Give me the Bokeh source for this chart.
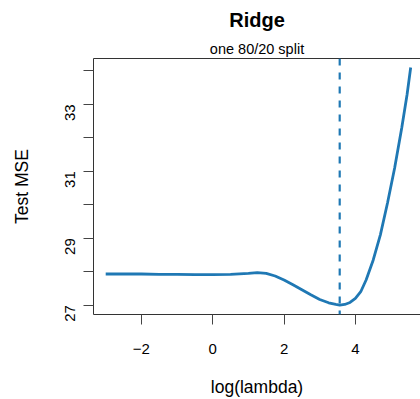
from bokeh.plotting import figure
from bokeh.models import (Range1d, FixedTicker, LinearAxis, Span, Title)
from bokeh.embed import file_html
from bokeh.resources import INLINE

# ---- data ----
log_lambda = [-3.0, -2.5, -2.0, -1.5, -1.0, -0.5, 0.0, 0.5, 1.0, 1.25, 1.5, 1.75,
              2.0, 2.25, 2.5, 2.75, 3.0, 3.25, 3.45, 3.56, 3.7, 3.85, 4.0, 4.15,
              4.3, 4.5, 4.7, 4.9, 5.1, 5.3, 5.45, 5.55]
test_mse = [27.93, 27.93, 27.93, 27.92, 27.92, 27.91, 27.91, 27.92, 27.95, 27.97,
            27.95, 27.87, 27.75, 27.61, 27.46, 27.31, 27.17, 27.07, 27.02, 27.00,
            27.02, 27.08, 27.20, 27.40, 27.75, 28.35, 29.10, 30.05, 31.10, 32.30,
            33.30, 34.10]
best_log_lambda = 3.56

x_ticks = [-2, 0, 2, 4]
x_tick_labels = ["\u22122", "0", "2", "4"]
y_ticks = [27, 28, 29, 30, 31, 32, 33, 34]
y_tick_labels = ["27", "", "29", "", "31", "", "33", ""]

title_text = "Ridge"
subtitle_text = "one 80/20 split"
x_label = "log(lambda)"
y_label = "Test MSE"

BLUE = "#1f78b4"
FONT = "Liberation Sans"

p = figure(width=420, height=399, output_backend="svg", toolbar_location=None,
           x_range=Range1d(-3.342, 5.825), y_range=Range1d(26.72, 34.37),
           min_border_left=93, min_border_right=0, min_border_top=0,
           min_border_bottom=0, x_axis_location=None, y_axis_location=None)
p.title = None
p.outline_line_color = None
p.background_fill_color = "white"
p.border_fill_color = "white"
p.xgrid.visible = False
p.ygrid.visible = False

def style_axis(ax, label_size="15px"):
    ax.axis_line_color = "#333333"
    ax.axis_line_width = 1
    ax.major_tick_line_color = "#444444"
    ax.major_tick_out = 10
    ax.major_tick_in = 0
    ax.minor_tick_line_color = None
    ax.major_label_text_font = FONT
    ax.major_label_text_font_size = label_size
    ax.major_label_text_color = "black"
    ax.axis_label_text_font = FONT
    ax.axis_label_text_font_size = "17.5px"
    ax.axis_label_text_font_style = "normal"
    ax.axis_label_text_color = "black"

xaxis = LinearAxis(ticker=FixedTicker(ticks=x_ticks),
                   major_label_overrides=dict(zip(x_ticks, x_tick_labels)),
                   axis_label=x_label)
style_axis(xaxis)
xaxis.major_label_standoff = 19
xaxis.axis_label_standoff = 20
p.add_layout(xaxis, "below")

yaxis = LinearAxis(ticker=FixedTicker(ticks=y_ticks),
                   major_label_overrides=dict(zip(y_ticks, y_tick_labels)),
                   axis_label=y_label)
style_axis(yaxis)
yaxis.major_label_orientation = 3.14159265 / 2
yaxis.major_label_standoff = 13
yaxis.axis_label_standoff = 26
p.add_layout(yaxis, "left")

top_axis = LinearAxis(ticker=FixedTicker(ticks=[]))
top_axis.axis_line_color = "#333333"
top_axis.major_tick_out = 0
top_axis.major_tick_in = 0
top_axis.minor_tick_line_color = None
top_axis.major_label_text_font_size = "0px"
top_axis.major_label_standoff = 0
p.add_layout(top_axis, "above")

sub = Title(text=subtitle_text, align="center", text_font=FONT,
            text_font_size="14.5px", text_font_style="normal",
            text_color="black", standoff=3)
p.add_layout(sub, "above")
main = Title(text=title_text, align="center", text_font=FONT,
             text_font_size="20px", text_font_style="bold",
             text_color="black", standoff=13)
p.add_layout(main, "above")

p.line(log_lambda, test_mse, line_color=BLUE, line_width=2.8)
p.add_layout(Span(location=best_log_lambda, dimension="height",
                  line_color=BLUE, line_width=2.2, line_dash="7 7"))

open("out.html", "w").write(file_html(p, INLINE))
